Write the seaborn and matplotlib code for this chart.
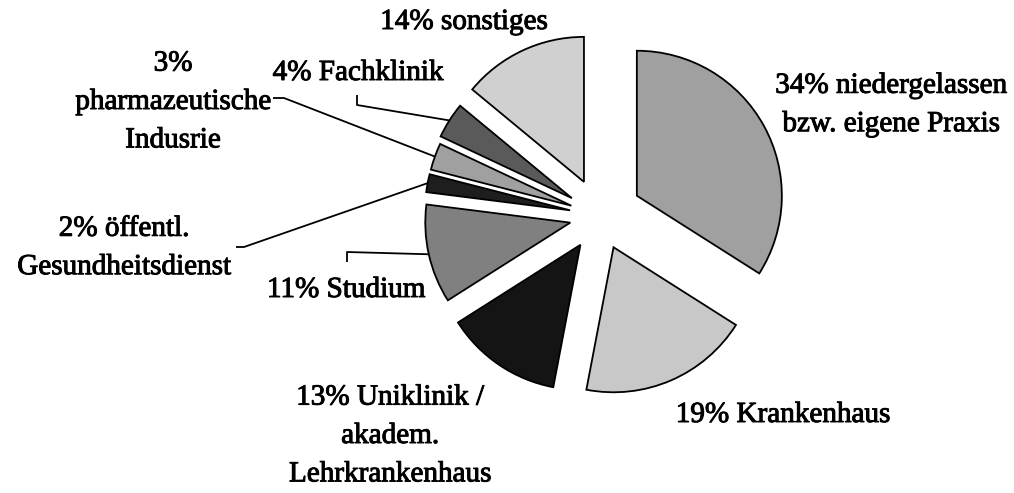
"""
Kreisdiagramm: angestrebtes Tätigkeitsfeld (Anteile in Prozent).
"""

import numpy as np
import matplotlib
matplotlib.use("Agg")
import matplotlib.pyplot as plt
import matplotlib.patheffects as pe
import seaborn as sns

# Daten (im Uhrzeigersinn ab 12 Uhr)
kategorien = [
    "niedergelassen\nbzw. eigene Praxis",
    "Krankenhaus",
    "Uniklinik /\nakadem.\nLehrkrankenhaus",
    "Studium",
    "öffentl.\nGesundheitsdienst",
    "\npharmazeutische\nIndusrie",
    "Fachklinik",
    "sonstiges",
]
anteile = [34, 19, 13, 11, 2, 3, 4, 14]

# Stil
farben = ["#a0a0a0", "#c8c8c8", "#141414", "#808080", "#1e1e1e", "#a0a0a0", "#5a5a5a", "#d0d0d0"]
explode = [0.29, 0.235, 0.24, 0.21, 0.21, 0.21, 0.23, 0.26]

sns.set_theme(style="white")
plt.rcParams["font.family"] = ["Liberation Serif", "DejaVu Serif"]

W, H = 1014, 493
CX, CY, R = 600, 216, 145  # Mittelpunkt und Radius in Pixeln


def px(x, y):
    """Pixelposition (oben links = 0,0) -> Datenkoordinaten (Radius = 1)."""
    return (x - CX) / R, (CY - y) / R


# Beschriftungspositionen (Pixel, Mitte des Textblocks)
label_pos = [(891, 105), (783, 415), (390, 436), (346, 290),
             (124, 248), (173, 102), (358, 73), (464, 22)]

# Führungslinien: Startpunkt am Text und Knickpunkt (Pixel), Ende am Segment
leader = {
    3: [(347, 262), (347, 252)],
    4: [(236, 247), (244, 247)],
    5: [(273, 98), (284, 98)],
    6: [(357, 95), (357, 105)],
}

fig = plt.figure(figsize=(W / 100, H / 100), dpi=100)
ax = fig.add_axes([0, 0, 1, 1])

wedges, _ = ax.pie(
    anteile,
    colors=farben,
    explode=explode,
    startangle=90,
    counterclock=False,
    radius=1,
    wedgeprops=dict(edgecolor="black", linewidth=1.3),
)

for i, (w, pct, name) in enumerate(zip(wedges, anteile, kategorien)):
    text = f"{pct}%{name}" if name.startswith("\n") else f"{pct}% {name}"
    tx, ty = px(*label_pos[i])
    ax.text(tx, ty, text, ha="center", va="center", fontsize=21,
            linespacing=1.62, color="black",
            path_effects=[pe.withStroke(linewidth=0.7, foreground="black")])

    if i in leader:
        # Ende der Linie: Mitte des Außenbogens des Segments
        mid = np.deg2rad((w.theta1 + w.theta2) / 2)
        ex = w.center[0] + w.r * np.cos(mid)
        ey = w.center[1] + w.r * np.sin(mid)
        pts = [px(*p) for p in leader[i]] + [(ex, ey)]
        xs, ys = zip(*pts)
        ax.plot(xs, ys, color="black", linewidth=1.3, solid_capstyle="butt")

ax.set_xlim(-CX / R, (W - CX) / R)
ax.set_ylim((CY - H) / R, CY / R)
ax.set_aspect("auto")
ax.axis("off")

fig.savefig("out.png", dpi=100, facecolor="white")
